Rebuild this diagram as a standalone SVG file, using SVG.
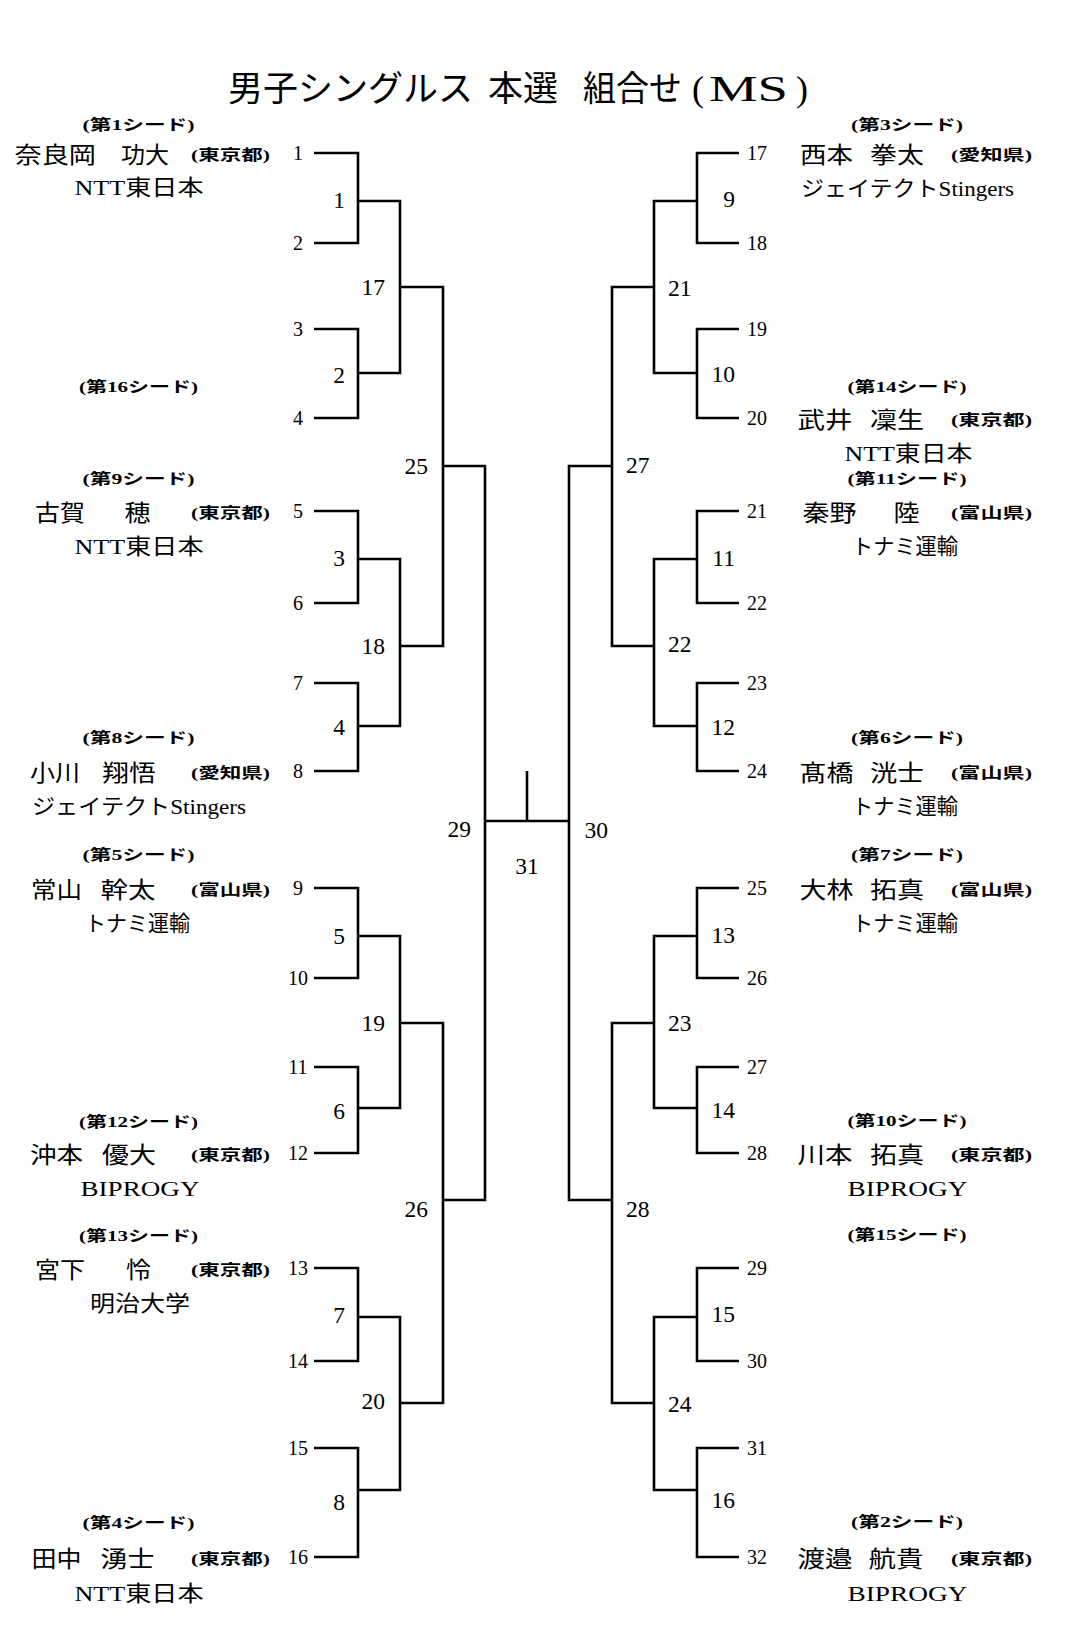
<svg xmlns="http://www.w3.org/2000/svg" width="1080" height="1642" viewBox="0 0 1080 1642">
<style>
.ln{fill:none;stroke:#000;stroke-width:2.6;stroke-linejoin:miter;stroke-linecap:butt}
text{font-family:'Liberation Serif','Noto Sans CJK JP',serif;fill:#000}
.title{font-size:35px}
.seed{font-size:15px;font-weight:700}
.pref{font-size:15px;font-weight:700}
.name{font-size:23px}
.team{font-size:21.5px}
.num{font-size:20px;text-anchor:middle}
.mnum{font-size:23.5px;text-anchor:end}
.mnumc{font-size:23.5px;text-anchor:middle}
</style>
<rect width="1080" height="1642" fill="#fff"/>
<g id="title">
<text class="title" y="101"><tspan x="228">男子シングルス </tspan><tspan x="488">本選　</tspan><tspan x="583" textLength="99" lengthAdjust="spacingAndGlyphs">組合せ</tspan> <tspan x="692" font-size="36">(</tspan><tspan x="709" font-size="36" textLength="79" lengthAdjust="spacingAndGlyphs">MS</tspan><tspan x="796" font-size="36">)</tspan></text>
</g>
<g id="connectors">
<path class="ln" d="M314,153H358V243H314M314,329H358V418H314M314,511H358V603H314M314,683H358V771H314M314,888H358V978H314M314,1067H358V1153H314M314,1268H358V1361H314M314,1448H358V1557H314"/>
<path class="ln" d="M358,201H400V373H358M358,559H400V726H358M358,936H400V1108H358M358,1317H400V1490H358"/>
<path class="ln" d="M400,287H443V646H400M400,1023H443V1403H400"/>
<path class="ln" d="M443,466H485V1200H443"/>
<path class="ln" d="M485,821H569M527,771V821"/>
<path class="ln" d="M612,466H569V1200H612"/>
<path class="ln" d="M654,287H612V646H654M654,1023H612V1403H654"/>
<path class="ln" d="M697,201H654V373H697M697,559H654V726H697M697,936H654V1108H697M697,1317H654V1490H697"/>
<path class="ln" d="M739,153H697V243H739M739,329H697V418H739M739,511H697V603H739M739,683H697V771H739M739,888H697V978H739M739,1067H697V1153H739M739,1268H697V1361H739M739,1448H697V1557H739"/>
</g>
<g id="slot-1"><text class="seed" x="82.5" y="130" textLength="112" lengthAdjust="spacingAndGlyphs">(第1シード)</text><text class="name" y="162.5"><tspan x="14.5" textLength="81.5" lengthAdjust="spacingAndGlyphs">奈良岡</tspan> <tspan x="121" textLength="48" lengthAdjust="spacingAndGlyphs">功大</tspan></text><text class="pref" x="191" y="160" textLength="79" lengthAdjust="spacingAndGlyphs">(東京都)</text><text class="team" x="74.5" y="195" textLength="129" lengthAdjust="spacingAndGlyphs">NTT東日本</text><text class="num" x="298" y="160">1</text></g>
<g id="slot-2"><text class="num" x="298" y="250">2</text></g>
<g id="slot-3"><text class="num" x="298" y="336">3</text></g>
<g id="slot-4"><text class="seed" x="79" y="391.7" textLength="119" lengthAdjust="spacingAndGlyphs">(第16シード)</text><text class="num" x="298" y="425">4</text></g>
<g id="slot-5"><text class="seed" x="82.5" y="483.7" textLength="112" lengthAdjust="spacingAndGlyphs">(第9シード)</text><text class="name" y="520.5"><tspan x="35" textLength="50" lengthAdjust="spacingAndGlyphs">古賀</tspan> <tspan x="124.5" textLength="26" lengthAdjust="spacingAndGlyphs">穂</tspan></text><text class="pref" x="191" y="518" textLength="79" lengthAdjust="spacingAndGlyphs">(東京都)</text><text class="team" x="74.5" y="554" textLength="129" lengthAdjust="spacingAndGlyphs">NTT東日本</text><text class="num" x="298" y="518">5</text></g>
<g id="slot-6"><text class="num" x="298" y="610">6</text></g>
<g id="slot-7"><text class="num" x="298" y="690">7</text></g>
<g id="slot-8"><text class="seed" x="82.5" y="743.2" textLength="112" lengthAdjust="spacingAndGlyphs">(第8シード)</text><text class="name" y="780.5"><tspan x="30" textLength="50" lengthAdjust="spacingAndGlyphs">小川</tspan> <tspan x="102" textLength="54" lengthAdjust="spacingAndGlyphs">翔悟</tspan></text><text class="pref" x="191" y="778" textLength="79" lengthAdjust="spacingAndGlyphs">(愛知県)</text><text class="team" x="32" y="814" textLength="214" lengthAdjust="spacingAndGlyphs">ジェイテクトStingers</text><text class="num" x="298" y="778">8</text></g>
<g id="slot-9"><text class="seed" x="82.5" y="860.2" textLength="112" lengthAdjust="spacingAndGlyphs">(第5シード)</text><text class="name" y="897.5"><tspan x="31" textLength="51" lengthAdjust="spacingAndGlyphs">常山</tspan> <tspan x="100.5" textLength="55" lengthAdjust="spacingAndGlyphs">幹太</tspan></text><text class="pref" x="191" y="895" textLength="79" lengthAdjust="spacingAndGlyphs">(富山県)</text><text class="team" x="85" y="931" textLength="105" lengthAdjust="spacingAndGlyphs">トナミ運輸</text><text class="num" x="298" y="895">9</text></g>
<g id="slot-10"><text class="num" x="298" y="985">10</text></g>
<g id="slot-11"><text class="num" x="298" y="1074">11</text></g>
<g id="slot-12"><text class="seed" x="79" y="1126.7" textLength="119" lengthAdjust="spacingAndGlyphs">(第12シード)</text><text class="name" y="1162.5"><tspan x="30" textLength="53" lengthAdjust="spacingAndGlyphs">沖本</tspan> <tspan x="102" textLength="54" lengthAdjust="spacingAndGlyphs">優大</tspan></text><text class="pref" x="191" y="1160" textLength="79" lengthAdjust="spacingAndGlyphs">(東京都)</text><text class="team" x="80.5" y="1196" textLength="119" lengthAdjust="spacingAndGlyphs">BIPROGY</text><text class="num" x="298" y="1160">12</text></g>
<g id="slot-13"><text class="seed" x="79" y="1240.7" textLength="119" lengthAdjust="spacingAndGlyphs">(第13シード)</text><text class="name" y="1277.5"><tspan x="35" textLength="50" lengthAdjust="spacingAndGlyphs">宮下</tspan> <tspan x="126" textLength="25" lengthAdjust="spacingAndGlyphs">怜</tspan></text><text class="pref" x="191" y="1275" textLength="79" lengthAdjust="spacingAndGlyphs">(東京都)</text><text class="team" x="90" y="1311" textLength="100" lengthAdjust="spacingAndGlyphs">明治大学</text><text class="num" x="298" y="1275">13</text></g>
<g id="slot-14"><text class="num" x="298" y="1368">14</text></g>
<g id="slot-15"><text class="num" x="298" y="1455">15</text></g>
<g id="slot-16"><text class="seed" x="82.5" y="1528.2" textLength="112" lengthAdjust="spacingAndGlyphs">(第4シード)</text><text class="name" y="1566.5"><tspan x="31.5" textLength="50" lengthAdjust="spacingAndGlyphs">田中</tspan> <tspan x="100.5" textLength="54" lengthAdjust="spacingAndGlyphs">湧士</tspan></text><text class="pref" x="191" y="1564" textLength="79" lengthAdjust="spacingAndGlyphs">(東京都)</text><text class="team" x="74.5" y="1601" textLength="129" lengthAdjust="spacingAndGlyphs">NTT東日本</text><text class="num" x="298" y="1564">16</text></g>
<g id="slot-17"><text class="seed" x="851" y="130" textLength="112" lengthAdjust="spacingAndGlyphs">(第3シード)</text><text class="name" y="162.5"><tspan x="800" textLength="53" lengthAdjust="spacingAndGlyphs">西本</tspan> <tspan x="870" textLength="54" lengthAdjust="spacingAndGlyphs">拳太</tspan></text><text class="pref" x="951" y="160" textLength="81" lengthAdjust="spacingAndGlyphs">(愛知県)</text><text class="team" x="801" y="196" textLength="213" lengthAdjust="spacingAndGlyphs">ジェイテクトStingers</text><text class="num" x="757" y="160">17</text></g>
<g id="slot-18"><text class="num" x="757" y="250">18</text></g>
<g id="slot-19"><text class="num" x="757" y="336">19</text></g>
<g id="slot-20"><text class="seed" x="847.5" y="391.7" textLength="119" lengthAdjust="spacingAndGlyphs">(第14シード)</text><text class="name" y="427.5"><tspan x="797.5" textLength="55" lengthAdjust="spacingAndGlyphs">武井</tspan> <tspan x="870" textLength="54" lengthAdjust="spacingAndGlyphs">凜生</tspan></text><text class="pref" x="951" y="425" textLength="81" lengthAdjust="spacingAndGlyphs">(東京都)</text><text class="team" x="844.5" y="461" textLength="128" lengthAdjust="spacingAndGlyphs">NTT東日本</text><text class="num" x="757" y="425">20</text></g>
<g id="slot-21"><text class="seed" x="847.5" y="483.7" textLength="119" lengthAdjust="spacingAndGlyphs">(第11シード)</text><text class="name" y="520.5"><tspan x="802.5" textLength="54" lengthAdjust="spacingAndGlyphs">秦野</tspan> <tspan x="893.5" textLength="26" lengthAdjust="spacingAndGlyphs">陸</tspan></text><text class="pref" x="951" y="518" textLength="81" lengthAdjust="spacingAndGlyphs">(富山県)</text><text class="team" x="852" y="554" textLength="106" lengthAdjust="spacingAndGlyphs">トナミ運輸</text><text class="num" x="757" y="518">21</text></g>
<g id="slot-22"><text class="num" x="757" y="610">22</text></g>
<g id="slot-23"><text class="num" x="757" y="690">23</text></g>
<g id="slot-24"><text class="seed" x="851" y="743.2" textLength="112" lengthAdjust="spacingAndGlyphs">(第6シード)</text><text class="name" y="780.5"><tspan x="799.5" textLength="54" lengthAdjust="spacingAndGlyphs">髙橋</tspan> <tspan x="870" textLength="54" lengthAdjust="spacingAndGlyphs">洸士</tspan></text><text class="pref" x="951" y="778" textLength="81" lengthAdjust="spacingAndGlyphs">(富山県)</text><text class="team" x="852" y="814" textLength="106" lengthAdjust="spacingAndGlyphs">トナミ運輸</text><text class="num" x="757" y="778">24</text></g>
<g id="slot-25"><text class="seed" x="851" y="859.7" textLength="112" lengthAdjust="spacingAndGlyphs">(第7シード)</text><text class="name" y="897.5"><tspan x="799.5" textLength="54" lengthAdjust="spacingAndGlyphs">大林</tspan> <tspan x="870" textLength="54" lengthAdjust="spacingAndGlyphs">拓真</tspan></text><text class="pref" x="951" y="895" textLength="81" lengthAdjust="spacingAndGlyphs">(富山県)</text><text class="team" x="852" y="931" textLength="106" lengthAdjust="spacingAndGlyphs">トナミ運輸</text><text class="num" x="757" y="895">25</text></g>
<g id="slot-26"><text class="num" x="757" y="985">26</text></g>
<g id="slot-27"><text class="num" x="757" y="1074">27</text></g>
<g id="slot-28"><text class="seed" x="847.5" y="1125.7" textLength="119" lengthAdjust="spacingAndGlyphs">(第10シード)</text><text class="name" y="1162.5"><tspan x="797.5" textLength="55" lengthAdjust="spacingAndGlyphs">川本</tspan> <tspan x="870" textLength="54" lengthAdjust="spacingAndGlyphs">拓真</tspan></text><text class="pref" x="951" y="1160" textLength="81" lengthAdjust="spacingAndGlyphs">(東京都)</text><text class="team" x="847.5" y="1196" textLength="120" lengthAdjust="spacingAndGlyphs">BIPROGY</text><text class="num" x="757" y="1160">28</text></g>
<g id="slot-29"><text class="seed" x="847.5" y="1239.7" textLength="119" lengthAdjust="spacingAndGlyphs">(第15シード)</text><text class="num" x="757" y="1275">29</text></g>
<g id="slot-30"><text class="num" x="757" y="1368">30</text></g>
<g id="slot-31"><text class="num" x="757" y="1455">31</text></g>
<g id="slot-32"><text class="seed" x="851" y="1526.7" textLength="112" lengthAdjust="spacingAndGlyphs">(第2シード)</text><text class="name" y="1566.5"><tspan x="797.5" textLength="55" lengthAdjust="spacingAndGlyphs">渡邉</tspan> <tspan x="868.5" textLength="55" lengthAdjust="spacingAndGlyphs">航貴</tspan></text><text class="pref" x="951" y="1564" textLength="81" lengthAdjust="spacingAndGlyphs">(東京都)</text><text class="team" x="847.5" y="1601" textLength="120" lengthAdjust="spacingAndGlyphs">BIPROGY</text><text class="num" x="757" y="1564">32</text></g>
<g id="match-1"><text class="mnum" x="345" y="208">1</text></g>
<g id="match-2"><text class="mnum" x="345" y="383">2</text></g>
<g id="match-3"><text class="mnum" x="345" y="566">3</text></g>
<g id="match-4"><text class="mnum" x="345" y="735">4</text></g>
<g id="match-5"><text class="mnum" x="345" y="944">5</text></g>
<g id="match-6"><text class="mnum" x="345" y="1119">6</text></g>
<g id="match-7"><text class="mnum" x="345" y="1323">7</text></g>
<g id="match-8"><text class="mnum" x="345" y="1510">8</text></g>
<g id="match-9"><text class="mnum" x="735" y="207">9</text></g>
<g id="match-10"><text class="mnum" x="735" y="382">10</text></g>
<g id="match-11"><text class="mnum" x="735" y="566">11</text></g>
<g id="match-12"><text class="mnum" x="735" y="735">12</text></g>
<g id="match-13"><text class="mnum" x="735" y="943">13</text></g>
<g id="match-14"><text class="mnum" x="735" y="1118">14</text></g>
<g id="match-15"><text class="mnum" x="735" y="1322">15</text></g>
<g id="match-16"><text class="mnum" x="735" y="1508">16</text></g>
<g id="match-17"><text class="mnum" x="385" y="295">17</text></g>
<g id="match-18"><text class="mnum" x="385" y="653.5">18</text></g>
<g id="match-19"><text class="mnum" x="385" y="1031">19</text></g>
<g id="match-20"><text class="mnum" x="385" y="1409">20</text></g>
<g id="match-21"><text class="mnum" x="691.5" y="295.5">21</text></g>
<g id="match-22"><text class="mnum" x="691.5" y="651.5">22</text></g>
<g id="match-23"><text class="mnum" x="691.5" y="1031">23</text></g>
<g id="match-24"><text class="mnum" x="691.5" y="1412">24</text></g>
<g id="match-25"><text class="mnum" x="428" y="474">25</text></g>
<g id="match-26"><text class="mnum" x="428" y="1217">26</text></g>
<g id="match-27"><text class="mnum" x="649.5" y="473">27</text></g>
<g id="match-28"><text class="mnum" x="649.5" y="1217">28</text></g>
<g id="match-29"><text class="mnum" x="471" y="837">29</text></g>
<g id="match-30"><text class="mnum" x="608" y="838">30</text></g>
<g id="match-31"><text class="mnumc" x="527" y="874">31</text></g>
</svg>
